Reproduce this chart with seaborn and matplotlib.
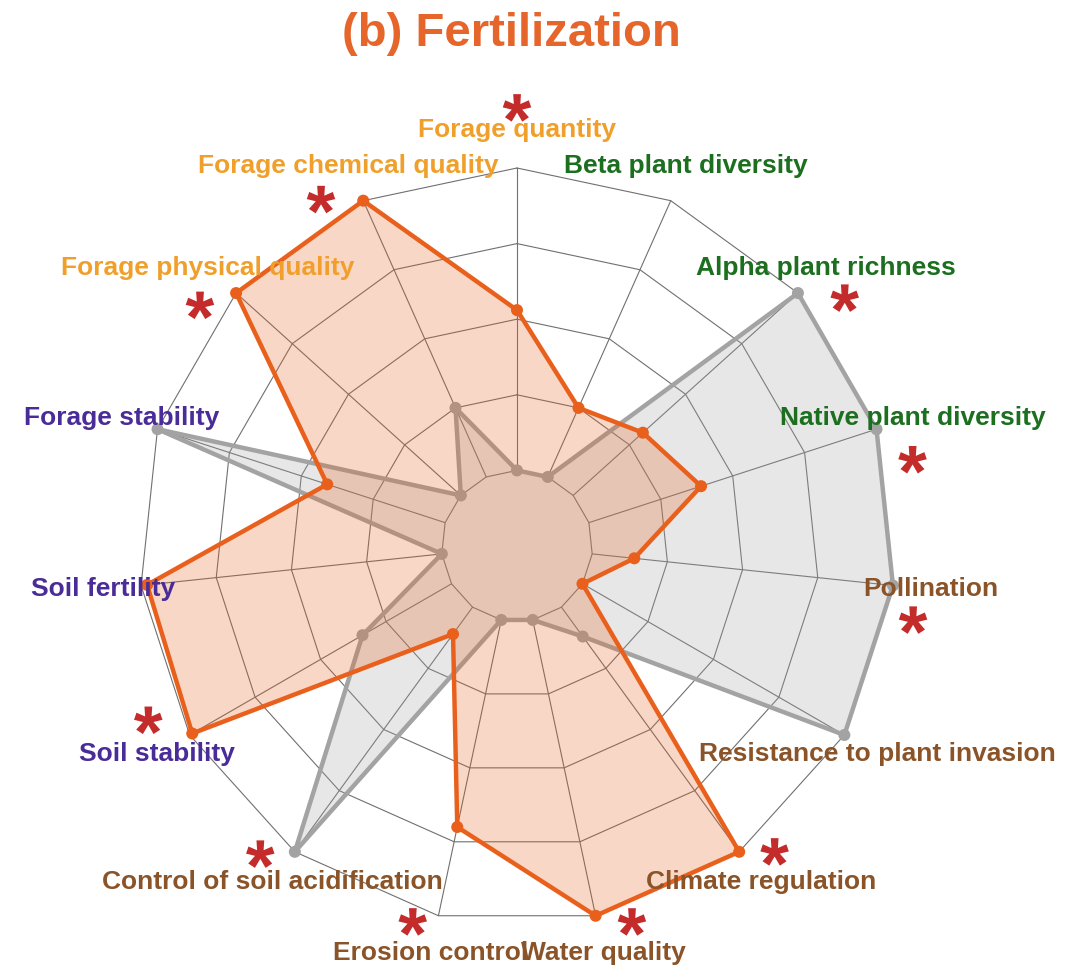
import numpy as np
import matplotlib.pyplot as plt
import seaborn as sns
from matplotlib.path import Path
from matplotlib.textpath import TextPath
from matplotlib.font_manager import FontProperties

# axes, clockwise from the top
services = ["Forage quantity", "Beta plant diversity", "Alpha plant richness",
            "Native plant diversity", "Pollination", "Resistance to plant invasion",
            "Climate regulation", "Water quality", "Erosion control",
            "Control of soil acidification", "Soil stability", "Soil fertility",
            "Forage stability", "Forage physical quality", "Forage chemical quality"]
groups = ["forage", "plant", "plant", "plant", "reg", "reg", "reg", "reg", "reg",
          "reg", "soil", "soil", "soil", "forage", "forage"]
# scaled 0 (min) .. 1 (max)
fertilized = [0.53, 0.25, 0.31, 0.39, 0.14, 0.0, 1.0, 1.0, 0.70, 0.11, 0.99, 0.98, 0.41, 1.0, 1.0]
control = [0.0, 0.0, 1.0, 1.0, 1.0, 1.0, 0.12, 0.0, 0.0, 1.0, 0.34, 0.0, 1.0, 0.0, 0.25]
significant = [1, 0, 1, 1, 1, 0, 1, 1, 1, 1, 1, 0, 0, 1, 1]

group_colors = {"forage": "#F0A02A", "plant": "#1B6F1F", "reg": "#8A5328", "soil": "#4A2C98"}
orange = "#E8601C"
grey = "#A3A3A3"
star_color = "#C42B2B"

sns.set_theme(style="white")
plt.rcParams['font.family'] = ['Liberation Sans', 'DejaVu Sans']

n = len(services)
seg = 4
theta = np.deg2rad(np.arange(n) * 360 / n)


def to_xy(vals, ang=theta):
    r = (np.asarray(vals, dtype=float) * seg + 1) / (seg + 1)
    return r * np.sin(ang), r * np.cos(ang)


R = 378
fig = plt.figure(figsize=(10.91, 9.71), dpi=100)
ax = fig.add_axes([0, 0, 1, 1])
ax.set_xlim(-517 / R, (1091 - 517) / R)
ax.set_ylim(-(971 - 546) / R, 546 / R)
ax.axis('off')

# web grid
ring = np.append(theta, theta[0])
for k in range(1, seg + 2):
    rr = k / (seg + 1)
    ax.plot(rr * np.sin(ring), rr * np.cos(ring), color='#707070', lw=0.8, zorder=1)
for a in theta:
    ax.plot([np.sin(a) / (seg + 1), np.sin(a)], [np.cos(a) / (seg + 1), np.cos(a)],
            color='#707070', lw=0.8, zorder=1)


def draw(vals, color, z):
    x, y = to_xy(vals)
    xc, yc = np.append(x, x[0]), np.append(y, y[0])
    ax.fill(xc, yc, color=color, alpha=0.25, lw=0, zorder=z)
    sns.lineplot(x=xc, y=yc, sort=False, estimator=None, color=color, lw=3.2, ax=ax, zorder=z + 0.5)
    sns.scatterplot(x=x, y=y, color=color, s=75, edgecolor='none', ax=ax, zorder=z + 0.6)


draw(control, grey, 2)
draw(fertilized, orange, 4)

# axis labels
for name, g, a in zip(services, groups, theta):
    ax.text(1.1 * np.sin(a), 1.1 * np.cos(a), name, ha='center', va='center',
            fontsize=19, fontweight='bold', color=group_colors[g], zorder=6)

# significance asterisks
star_r = [1.159, 0, 1.087, 1.071, 1.066, 0, 1.058, 1.04, 1.032, 1.061, 1.079, 0, 0, 1.053, 1.053]
star_a = [0, 0, 52.9, 77.7, 100.6, 0, 139.9, 163, 195.5, 219.8, 244.7, 0, 0, 307.2, 330.5]
tp = TextPath((0, 0), '*', prop=FontProperties(family='Liberation Sans', weight='bold'))
verts = tp.vertices.copy()
codes = tp.codes
for i in range(len(verts)):
    if codes[i] == Path.CLOSEPOLY:
        verts[i] = verts[i - 1]
real = codes != Path.CLOSEPOLY
cen = (verts[real].min(axis=0) + verts[real].max(axis=0)) / 2
star = Path(verts - cen, codes)
sx = [r * np.sin(np.deg2rad(a)) for r, a, s in zip(star_r, star_a, significant) if s]
sy = [r * np.cos(np.deg2rad(a)) for r, a, s in zip(star_r, star_a, significant) if s]
sns.scatterplot(x=sx, y=sy, marker=star, s=420, color=star_color, edgecolor='none', ax=ax, zorder=7)

fig.text(511 / 1091, 1 - 46 / 971, "(b) Fertilization", ha='center', va='baseline',
         fontsize=34, fontweight='bold', color='#E5652A')

fig.savefig('out.png', dpi=100)
